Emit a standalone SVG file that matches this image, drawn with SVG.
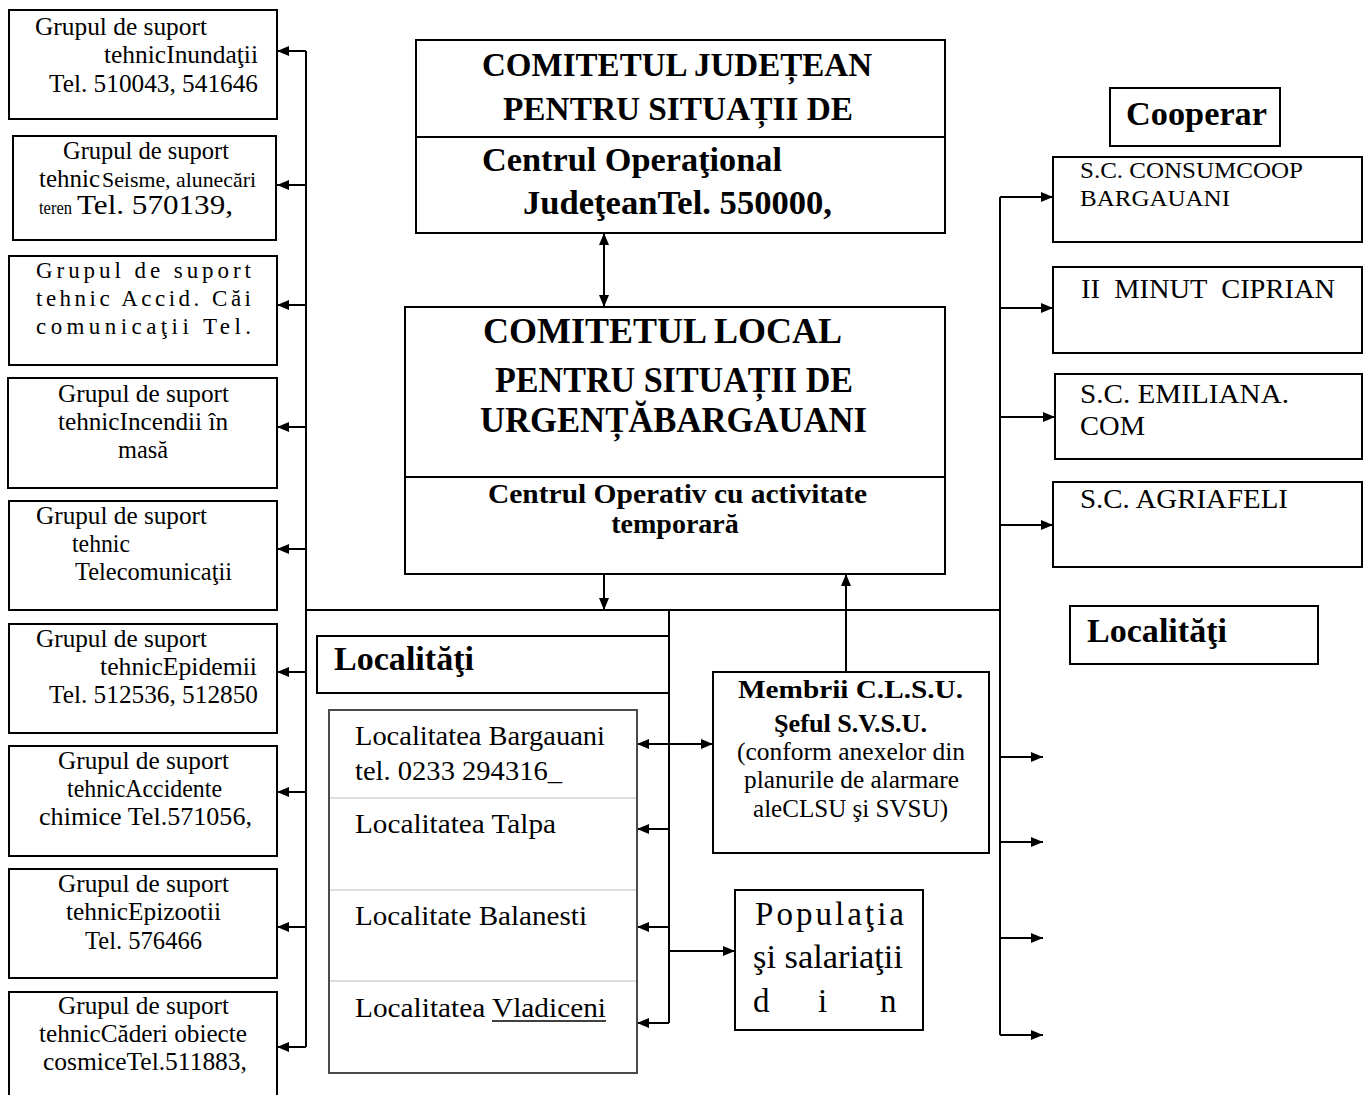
<svg xmlns="http://www.w3.org/2000/svg" width="1366" height="1095" viewBox="0 0 1366 1095">
<defs>
<marker id="ah" markerUnits="userSpaceOnUse" markerWidth="12" markerHeight="10" refX="12" refY="5" orient="auto-start-reverse">
<path d="M0,0 L12,5 L0,10 z" fill="#000"/>
</marker>
<style>
.box{fill:#fff;stroke:#000;stroke-width:2}
.t{font-family:"Liberation Serif","Times New Roman",serif;fill:#000;font-size:25px}
.b{font-weight:bold}
.ln{stroke:#000;stroke-width:2;fill:none}
.ar{stroke:#000;stroke-width:2;fill:none;marker-end:url(#ah)}
.ar2{stroke:#000;stroke-width:2;fill:none;marker-end:url(#ah);marker-start:url(#ah)}
</style>
</defs>
<rect width="1366" height="1095" fill="#fff"/>

<g id="connectors">
<path class="ln" d="M306,51 V1047"/>
<path class="ar" d="M306,51 H277"/>
<path class="ar" d="M306,185 H277"/>
<path class="ar" d="M306,305 H277"/>
<path class="ar" d="M306,427 H277"/>
<path class="ar" d="M306,549 H277"/>
<path class="ar" d="M306,672 H277"/>
<path class="ar" d="M306,792 H277"/>
<path class="ar" d="M306,927 H277"/>
<path class="ar" d="M306,1047 H277"/>
<path class="ln" d="M306,610 H1000"/>
<path class="ln" d="M1000,197 V1035"/>
<path class="ar" d="M1000,197 H1053"/>
<path class="ar" d="M1000,308 H1053"/>
<path class="ar" d="M1000,417 H1055"/>
<path class="ar" d="M1000,525 H1053"/>
<path class="ar" d="M1000,757 H1043"/>
<path class="ar" d="M1000,842 H1043"/>
<path class="ar" d="M1000,938 H1043"/>
<path class="ar" d="M1000,1035 H1043"/>
<path class="ln" d="M669,610 V1023"/>
<path class="ar" d="M669,829 H637"/>
<path class="ar" d="M669,927 H637"/>
<path class="ar" d="M669,1023 H637"/>
<path class="ar2" d="M637,744 H713"/>
<path class="ar" d="M669,951 H735"/>
<path class="ar2" d="M604,233 V307"/>
<path class="ar" d="M604,574 V610"/>
<path class="ar" d="M846,672 V574"/>
</g>

<g id="gs-inundatii">
<rect class="box" x="9" y="10" width="268" height="109"/>
<text class="t" x="35" y="35" textLength="172" lengthAdjust="spacingAndGlyphs">Grupul de suport</text>
<text class="t" x="104" y="63" textLength="154" lengthAdjust="spacingAndGlyphs">tehnicInundaţii</text>
<text class="t" x="49" y="92" textLength="209" lengthAdjust="spacingAndGlyphs">Tel. 510043, 541646</text>
</g>
<g id="gs-seisme">
<rect class="box" x="13" y="136" width="263" height="104"/>
<text class="t" x="63" y="159" textLength="166" lengthAdjust="spacingAndGlyphs">Grupul de suport</text>
<text class="t" x="39" y="187" textLength="61" lengthAdjust="spacingAndGlyphs">tehnic</text>
<text class="t" x="102" y="187" style="font-size:21px" textLength="154" lengthAdjust="spacingAndGlyphs">Seisme, alunecări</text>
<text class="t" x="39" y="214" style="font-size:18px" textLength="33" lengthAdjust="spacingAndGlyphs">teren</text>
<text class="t" x="77" y="214" style="font-size:28px" textLength="156" lengthAdjust="spacingAndGlyphs">Tel. 570139,</text>
</g>
<g id="gs-cai-comunicatii">
<rect class="box" x="9" y="256" width="268" height="109"/>
<text class="t" x="36" y="278" style="font-size:23px" textLength="215" lengthAdjust="spacing">Grupul de suport</text>
<text class="t" x="36" y="306" style="font-size:23px" textLength="215" lengthAdjust="spacing">tehnic Accid. Căi</text>
<text class="t" x="36" y="334" style="font-size:23px" textLength="215" lengthAdjust="spacing">comunicaţii Tel.</text>
</g>
<g id="gs-incendii">
<rect class="box" x="8" y="378" width="269" height="110"/>
<text class="t" x="58" y="402" textLength="171" lengthAdjust="spacingAndGlyphs">Grupul de suport</text>
<text class="t" x="58" y="430" textLength="170" lengthAdjust="spacingAndGlyphs">tehnicIncendii în</text>
<text class="t" x="118" y="458" textLength="50" lengthAdjust="spacingAndGlyphs">masă</text>
</g>
<g id="gs-telecom">
<rect class="box" x="9" y="501" width="268" height="109"/>
<text class="t" x="36" y="524" textLength="171" lengthAdjust="spacingAndGlyphs">Grupul de suport</text>
<text class="t" x="72" y="552" textLength="58" lengthAdjust="spacingAndGlyphs">tehnic</text>
<text class="t" x="75" y="580" textLength="157" lengthAdjust="spacingAndGlyphs">Telecomunicaţii</text>
</g>
<g id="gs-epidemii">
<rect class="box" x="9" y="624" width="268" height="109"/>
<text class="t" x="36" y="647" textLength="171" lengthAdjust="spacingAndGlyphs">Grupul de suport</text>
<text class="t" x="100" y="675" textLength="157" lengthAdjust="spacingAndGlyphs">tehnicEpidemii</text>
<text class="t" x="49" y="703" textLength="209" lengthAdjust="spacingAndGlyphs">Tel. 512536, 512850</text>
</g>
<g id="gs-chimice">
<rect class="box" x="9" y="746" width="268" height="110"/>
<text class="t" x="58" y="769" textLength="171" lengthAdjust="spacingAndGlyphs">Grupul de suport</text>
<text class="t" x="67" y="797" textLength="155" lengthAdjust="spacingAndGlyphs">tehnicAccidente</text>
<text class="t" x="39" y="825" textLength="213" lengthAdjust="spacingAndGlyphs">chimice Tel.571056,</text>
</g>
<g id="gs-epizootii">
<rect class="box" x="9" y="869" width="268" height="109"/>
<text class="t" x="58" y="892" textLength="171" lengthAdjust="spacingAndGlyphs">Grupul de suport</text>
<text class="t" x="66" y="920" textLength="155" lengthAdjust="spacingAndGlyphs">tehnicEpizootii</text>
<text class="t" x="85" y="949" textLength="117" lengthAdjust="spacingAndGlyphs">Tel. 576466</text>
</g>
<g id="gs-cosmice">
<rect class="box" x="9" y="992" width="268" height="120"/>
<text class="t" x="58" y="1014" textLength="171" lengthAdjust="spacingAndGlyphs">Grupul de suport</text>
<text class="t" x="39" y="1042" textLength="208" lengthAdjust="spacingAndGlyphs">tehnicCăderi obiecte</text>
<text class="t" x="43" y="1070" textLength="204" lengthAdjust="spacingAndGlyphs">cosmiceTel.511883,</text>
</g>

<g id="cjsu">
<rect class="box" x="416" y="40" width="529" height="193"/>
<path class="ln" d="M416,137 H945"/>
<text class="t b" x="482" y="76" style="font-size:33px" textLength="390" lengthAdjust="spacingAndGlyphs">COMITETUL JUDEȚEAN</text>
<text class="t b" x="503" y="120" style="font-size:33px" textLength="350" lengthAdjust="spacingAndGlyphs">PENTRU SITUAȚII DE</text>
<text class="t b" x="482" y="171" style="font-size:33px" textLength="300" lengthAdjust="spacingAndGlyphs">Centrul Operaţional</text>
<text class="t b" x="523" y="214" style="font-size:33px" textLength="309" lengthAdjust="spacingAndGlyphs">JudeţeanTel. 550000,</text>
</g>

<g id="clsu">
<rect class="box" x="405" y="307" width="540" height="267"/>
<path class="ln" d="M405,477 H945"/>
<text class="t b" x="483" y="343" style="font-size:36px" textLength="359" lengthAdjust="spacingAndGlyphs">COMITETUL LOCAL</text>
<text class="t b" x="495" y="392" style="font-size:36px" textLength="358" lengthAdjust="spacingAndGlyphs">PENTRU SITUAȚII DE</text>
<text class="t b" x="480" y="432" style="font-size:36px" textLength="387" lengthAdjust="spacingAndGlyphs">URGENȚĂBARGAUANI</text>
<text class="t b" x="488" y="503" style="font-size:28px" textLength="379" lengthAdjust="spacingAndGlyphs">Centrul Operativ cu activitate</text>
<text class="t b" x="675" y="533" style="font-size:28px" text-anchor="middle">temporară</text>
</g>

<g id="localitati-header">
<rect class="box" x="317" y="636" width="352" height="57"/>
<text class="t b" x="334" y="670" style="font-size:33px" textLength="140" lengthAdjust="spacingAndGlyphs">Localităţi</text>
</g>

<g id="localitati-list">
<rect x="329" y="710" width="308" height="363" fill="#fff" stroke="#4a4a4a" stroke-width="2"/>
<path d="M330,798 H636 M330,890 H636 M330,981 H636" stroke="#d4d4d4" stroke-width="1.5" fill="none"/>
<text class="t" x="355" y="745" style="font-size:28px" textLength="250" lengthAdjust="spacingAndGlyphs">Localitatea Bargauani</text>
<text class="t" x="355" y="780" style="font-size:28px" textLength="207" lengthAdjust="spacingAndGlyphs">tel. 0233 294316_</text>
<text class="t" x="355" y="833" style="font-size:28px" textLength="201" lengthAdjust="spacingAndGlyphs">Localitatea Talpa</text>
<text class="t" x="355" y="925" style="font-size:28px" textLength="232" lengthAdjust="spacingAndGlyphs">Localitate Balanesti</text>
<text class="t" x="355" y="1017" style="font-size:28px" textLength="251" lengthAdjust="spacingAndGlyphs">Localitatea Vladiceni</text>
<path d="M492,1021 H606" stroke="#000" stroke-width="1.5"/>
</g>

<g id="membrii">
<rect class="box" x="713" y="672" width="276" height="181"/>
<text class="t b" x="738" y="698" style="font-size:26px" textLength="225" lengthAdjust="spacingAndGlyphs">Membrii C.L.S.U.</text>
<text class="t b" x="774" y="732" style="font-size:26px" textLength="153" lengthAdjust="spacingAndGlyphs">Şeful S.V.S.U.</text>
<text class="t" x="737" y="760" textLength="228" lengthAdjust="spacingAndGlyphs">(conform anexelor din</text>
<text class="t" x="744" y="788" textLength="215" lengthAdjust="spacingAndGlyphs">planurile de alarmare</text>
<text class="t" x="753" y="817" textLength="195" lengthAdjust="spacingAndGlyphs">aleCLSU şi SVSU)</text>
</g>

<g id="populatia">
<rect class="box" x="735" y="890" width="188" height="140"/>
<text class="t" x="755" y="925" style="font-size:33px" textLength="149" lengthAdjust="spacing">Populaţia</text>
<text class="t" x="753" y="968" style="font-size:33px" textLength="150" lengthAdjust="spacingAndGlyphs">şi salariaţii</text>
<text class="t" y="1012" style="font-size:33px"><tspan x="753">d</tspan><tspan x="818">i</tspan><tspan x="880">n</tspan></text>
</g>

<g id="cooperare">
<rect class="box" x="1110" y="88" width="170" height="58"/>
<text class="t b" x="1126" y="125" style="font-size:33px" textLength="141" lengthAdjust="spacingAndGlyphs">Cooperar</text>
</g>
<g id="consumcoop">
<rect class="box" x="1053" y="157" width="309" height="85"/>
<text class="t" x="1080" y="178" style="font-size:24px" textLength="223" lengthAdjust="spacingAndGlyphs">S.C. CONSUMCOOP</text>
<text class="t" x="1080" y="206" style="font-size:24px" textLength="150" lengthAdjust="spacingAndGlyphs">BARGAUANI</text>
</g>
<g id="minut">
<rect class="box" x="1053" y="267" width="309" height="86"/>
<text class="t" x="1081" y="298" style="font-size:27px" textLength="254" lengthAdjust="spacingAndGlyphs" xml:space="preserve">II  MINUT  CIPRIAN</text>
</g>
<g id="emiliana">
<rect class="box" x="1055" y="374" width="307" height="85"/>
<text class="t" x="1080" y="403" style="font-size:28px" textLength="209" lengthAdjust="spacingAndGlyphs">S.C. EMILIANA.</text>
<text class="t" x="1080" y="435" style="font-size:28px" textLength="65" lengthAdjust="spacingAndGlyphs">COM</text>
</g>
<g id="agriafeli">
<rect class="box" x="1053" y="482" width="309" height="85"/>
<text class="t" x="1080" y="508" style="font-size:28px" textLength="208" lengthAdjust="spacingAndGlyphs">S.C. AGRIAFELI</text>
</g>
<g id="localitati-right">
<rect class="box" x="1070" y="606" width="248" height="58"/>
<text class="t b" x="1087" y="642" style="font-size:33px" textLength="140" lengthAdjust="spacingAndGlyphs">Localităţi</text>
</g>
</svg>
